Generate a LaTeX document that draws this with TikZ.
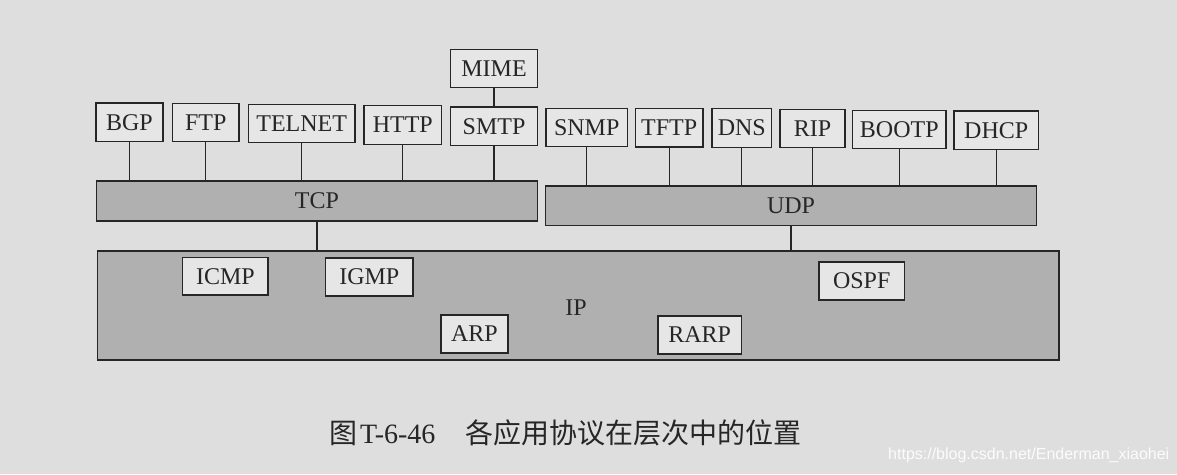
\documentclass[tikz,border=0pt]{standalone}
\usepackage{fontspec}
\setmainfont{Liberation Serif}
\newfontfamily\cjkfont{Noto Sans CJK SC}
\newfontfamily\wmfont{Liberation Sans}
\definecolor{bg}{RGB}{222,222,223}
\definecolor{boxfill}{RGB}{230,230,230}
\definecolor{barfill}{RGB}{176,176,176}
\definecolor{ink}{RGB}{38,38,38}
\begin{document}
\begin{tikzpicture}[x=1pt,y=-1pt,
  proto/.style={draw=ink, fill=boxfill, line width=1.3pt, inner sep=0pt, text=ink,
    font=\fontsize{24}{28}\selectfont, minimum height=38.5pt},
  layer/.style={draw=ink, fill=barfill, line width=1.3pt, inner sep=0pt, text=ink,
    font=\fontsize{24}{28}\selectfont},
  link/.style={draw=ink, line width=1.1pt}]
\fill[bg] (0,0) rectangle (1177,474);
\useasboundingbox (0,0) rectangle (1177,474);

% layers
\node[layer, minimum width=440.6pt, minimum height=40pt] (tcp) at (317,201) {TCP};
\node[layer, minimum width=491.4pt, minimum height=39.5pt] (udp) at (791,205.7) {UDP};
\node[layer, minimum width=961.4pt, minimum height=109pt] (ip) at (578.3,305.5) {};
\node[text=ink, font=\fontsize{24}{28}\selectfont, inner sep=0pt] (iplabel) at (576,308) {IP};

% application protocols
\node[proto, minimum width=86.6pt] (mime) at (494,68.5) {MIME};
\node[proto, minimum width=67pt] (bgp) at (129.5,122.2) {BGP};
\node[proto, minimum width=66.7pt] (ftp) at (205.7,122.5) {FTP};
\node[proto, minimum width=106.7pt] (telnet) at (301.7,123.5) {TELNET};
\node[proto, minimum width=77.7pt] (http) at (402.8,125) {HTTP};
\node[proto, minimum width=86.6pt] (smtp) at (494,126.3) {SMTP};
\node[proto, minimum width=81.3pt] (snmp) at (586.7,127.5) {SNMP};
\node[proto, minimum width=67.7pt] (tftp) at (669.2,127.8) {TFTP};
\node[proto, minimum width=59.7pt] (dns) at (741.8,128) {DNS};
\node[proto, minimum width=65pt] (rip) at (812.5,128.5) {RIP};
\node[proto, minimum width=93.3pt] (bootp) at (899.3,129.5) {BOOTP};
\node[proto, minimum width=84.3pt] (dhcp) at (996.2,130.3) {DHCP};

% network layer protocols
\node[proto, minimum width=85.2pt, minimum height=37.7pt] (icmp) at (225.4,276.2) {ICMP};
\node[proto, minimum width=87.5pt, minimum height=38pt] (igmp) at (369.3,277) {IGMP};
\node[proto, minimum width=67pt, minimum height=38pt] (arp) at (474.5,334) {ARP};
\node[proto, minimum width=83.5pt, minimum height=38pt] (rarp) at (699.7,335) {RARP};
\node[proto, minimum width=85.4pt, minimum height=38pt] (ospf) at (861.7,281) {OSPF};

% connectors
\draw[link] (mime.south) -- (smtp.north);
\foreach \p in {bgp,ftp,telnet,http,smtp}
  \draw[link] (\p.south) -- (\p.south |- tcp.north);
\foreach \p in {snmp,tftp,dns,rip,bootp,dhcp}
  \draw[link] (\p.south) -- (\p.south |- udp.north);
\draw[link] (tcp.south) -- (tcp.south |- ip.north);
\draw[link] (udp.south) -- (udp.south |- ip.north);

% caption
\node[anchor=west, text=ink, inner sep=0pt, font=\fontsize{28}{32}\selectfont] (cap) at (329,433)
  {{\cjkfont 图}\hspace{3pt}T-6-46\hspace{30pt}{\cjkfont 各应用协议在层次中的位置}};

% watermark
\node[anchor=west, text=white, opacity=0.9, inner sep=0pt,
  font=\wmfont\fontsize{16}{18}\selectfont] (wm) at (888,455) {https://blog.csdn.net/Enderman\_xiaohei};
\end{tikzpicture}
\end{document}
